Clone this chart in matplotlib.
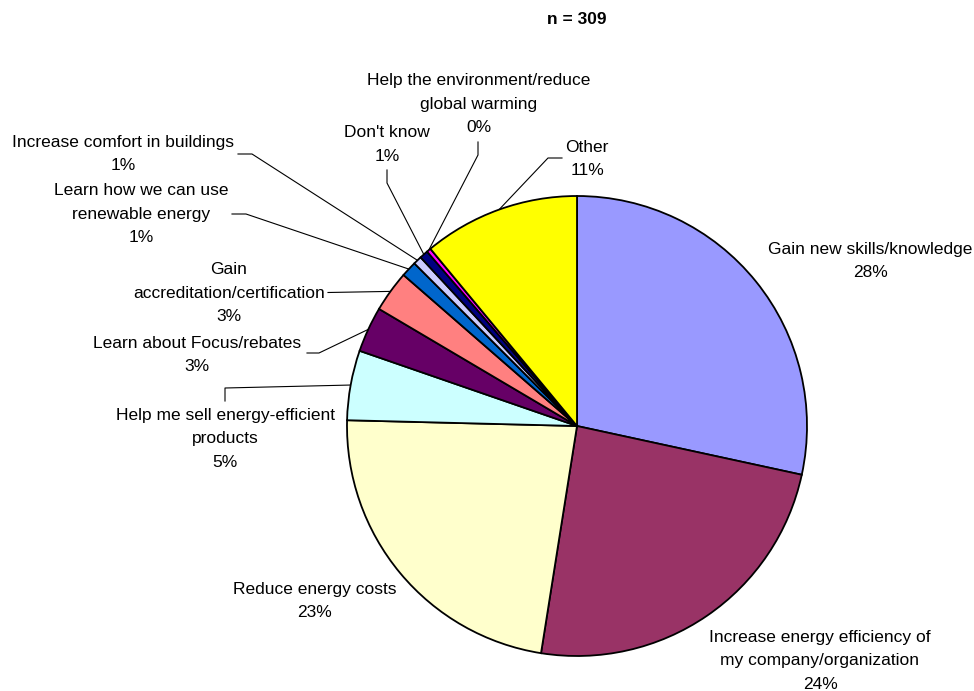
import numpy as np
import matplotlib
matplotlib.use("Agg")
import matplotlib.pyplot as plt

W, H = 974, 691

title = "n = 309"
categories = [
    "Gain new skills/knowledge",
    "Increase energy efficiency of\nmy company/organization",
    "Reduce energy costs",
    "Help me sell energy-efficient\nproducts",
    "Learn about Focus/rebates",
    "Gain\naccreditation/certification",
    "Learn how we can use\nrenewable energy",
    "Increase comfort in buildings",
    "Don't know",
    "Help the environment/reduce\nglobal warming",
    "Other",
]
shares = [28.4, 24.1, 22.9, 4.9, 3.2, 2.9, 1.1, 0.6, 0.6, 0.3, 11.0]
colors = ["#9999FF", "#993366", "#FFFFCC", "#CCFFFF", "#660066", "#FF8080",
          "#0066CC", "#CCCCFF", "#000080", "#FF00FF", "#FFFF00"]

plt.rcParams["font.family"] = ["Liberation Sans", "DejaVu Sans"]

fig = plt.figure(figsize=(W / 100, H / 100), dpi=100)
ax = fig.add_axes([0, 0, 1, 1])


def px(x, y):
    """Pixel position (origin top-left) to axes data coords."""
    return x, H - y


cx, cy = px(577, 426)
R = 230
wedges, _ = ax.pie(shares, colors=colors, startangle=90, counterclock=False,
                   center=(cx, cy), radius=R,
                   wedgeprops=dict(edgecolor="black", linewidth=1.3))
ax.set_xlim(0, W)
ax.set_ylim(0, H)
ax.set_aspect("equal")
ax.axis("off")

ax.text(*px(577, 19), title, ha="center", va="center", fontsize=12.5,
        fontweight="bold")

# label block centre and leader path (pixel coords; None = no leader)
layout = [
    ((870, 261), None),
    ((820, 661), None),
    ((315, 601), None),
    ((225, 439), [(225, 401), (225, 388)]),
    ((197, 355), [(307, 353), (319, 353)]),
    ((229, 293), [(328, 292.5)]),
    ((141, 214), [(232, 214), (246, 214)]),
    ((123, 154), [(238, 154), (252, 154)]),
    ((387, 144.5), [(387, 170), (387, 183)]),
    ((479, 104), [(478, 142), (478, 155)]),
    ((587, 159), [(562, 158), (548, 158)]),
]
LINE_GAP = 23.3

for w, name, val, (pos, path) in zip(wedges, categories, shares, layout):
    lines = name.split("\n") + [f"{int(round(val))}%"]
    x0, y0 = pos
    top = y0 - (len(lines) - 1) / 2 * LINE_GAP
    for i, line in enumerate(lines):
        ax.text(*px(x0, top + i * LINE_GAP), line, ha="center", va="center",
                fontsize=12.5)
    if path is not None:
        mid = np.deg2rad((w.theta1 + w.theta2) / 2)
        ex, ey = cx + R * np.cos(mid), cy + R * np.sin(mid)
        xs = [px(*p)[0] for p in path] + [ex]
        ys = [px(*p)[1] for p in path] + [ey]
        ax.plot(xs, ys, color="black", linewidth=0.8, zorder=0.5)

fig.savefig("out.png", dpi=100)
